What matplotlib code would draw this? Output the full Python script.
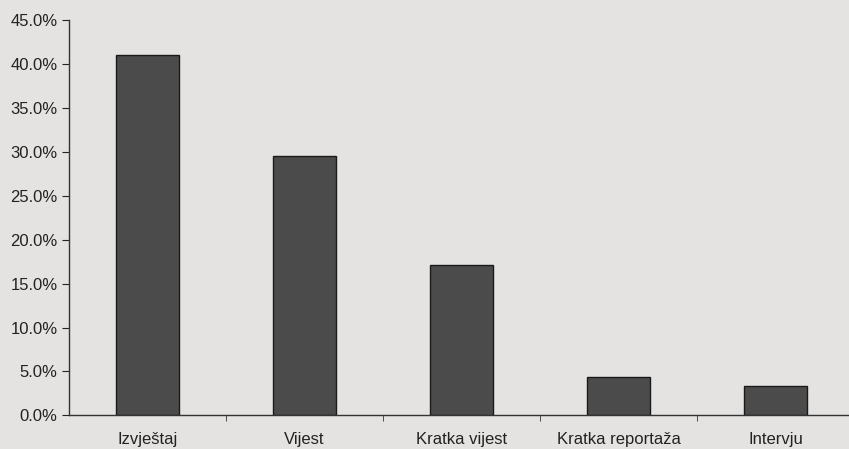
import numpy as np
import matplotlib.pyplot as plt
from matplotlib.ticker import PercentFormatter, FixedLocator

# Data
categories = ['Izvještaj', 'Vijest', 'Kratka vijest', 'Kratka reportaža', 'Intervju']
shares = [41.0, 29.5, 17.1, 4.4, 3.3]
y_ticks = [0, 5, 10, 15, 20, 25, 30, 35, 40, 45]

plt.rcParams['font.family'] = ['Liberation Sans', 'DejaVu Sans']

fig = plt.figure(figsize=(8.49, 4.49), dpi=100)
fig.patch.set_facecolor('#e4e3e1')
ax = fig.add_axes([0.081, 0.075, 0.925, 0.88])
ax.set_facecolor('#e4e3e1')

x = np.arange(len(categories))
ax.bar(x, shares, width=0.4, color='#4b4b4b', edgecolor='#1a1a1a', linewidth=1.0)

ax.set_xlim(-0.5, 4.5)
ax.set_ylim(0, 45)
ax.set_yticks(y_ticks)
ax.yaxis.set_major_formatter(PercentFormatter(decimals=1))

ax.set_xticks(x)
ax.set_xticklabels(categories)
ax.xaxis.set_minor_locator(FixedLocator(x[:-1] + 0.5))
ax.tick_params(axis='x', which='major', length=0, pad=12, labelsize=12, colors='#222222')
ax.tick_params(axis='x', which='minor', length=4, direction='out', color='#333333')
ax.tick_params(axis='y', length=5, direction='out', labelsize=12, colors='#222222', pad=3)

for side in ['top', 'right']:
    ax.spines[side].set_visible(False)
for side in ['left', 'bottom']:
    ax.spines[side].set_color('#333333')
    ax.spines[side].set_linewidth(1.0)

fig.savefig('out.png', dpi=100, facecolor=fig.get_facecolor())
